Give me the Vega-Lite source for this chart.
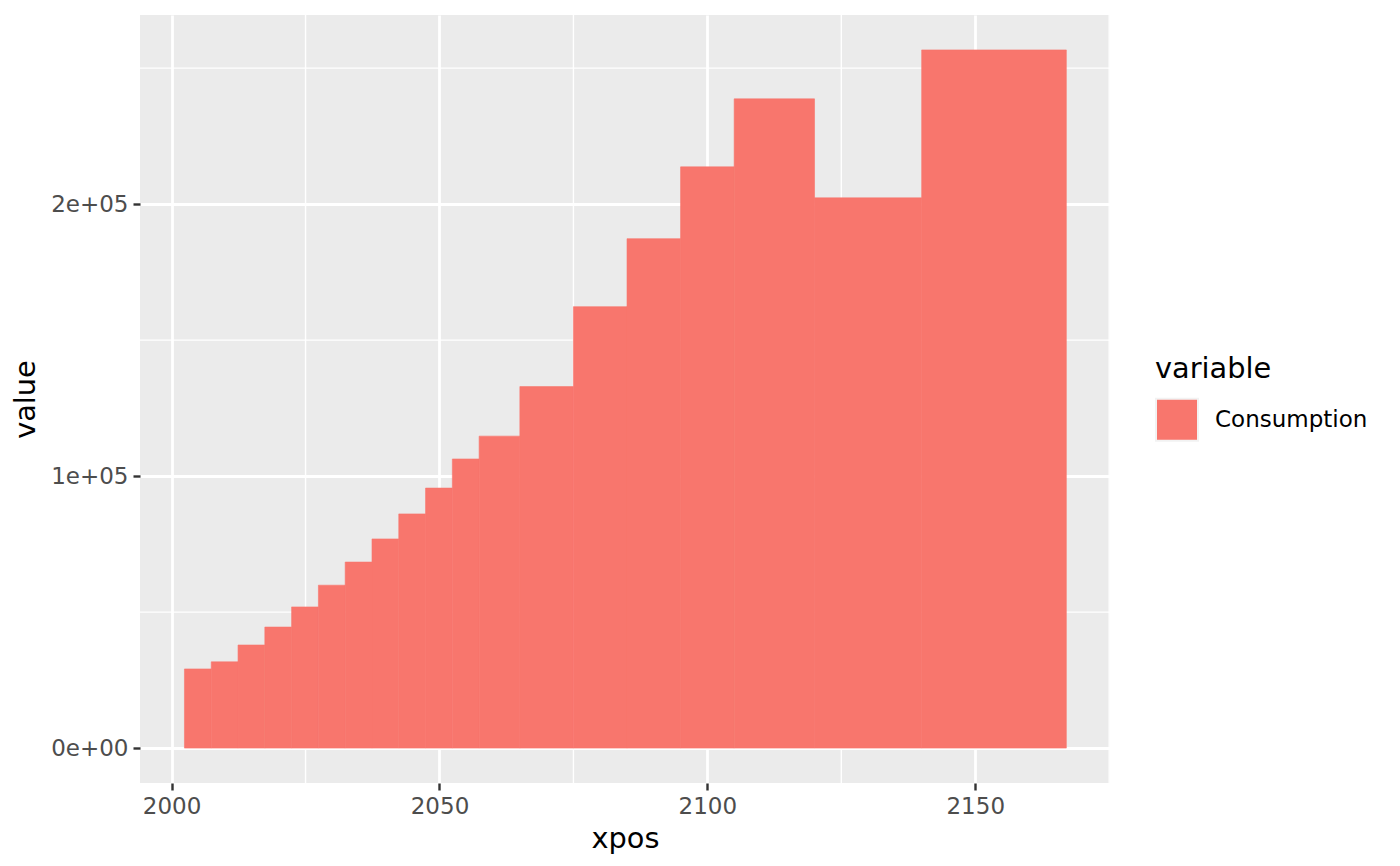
{
  "$schema": "https://vega.github.io/schema/vega-lite/v6.json",
  "width": 970,
  "height": 768,
  "autosize": {"type": "none"},
  "padding": {"left": 140, "top": 15, "right": 290, "bottom": 83},
  "background": "white",
  "config": {
    "font": "DejaVu Sans",
    "view": {"fill": "#EBEBEB", "stroke": null},
    "axis": {
      "grid": true,
      "gridColor": "white",
      "gridWidth": 2.8,
      "domain": false,
      "tickColor": "#333333",
      "tickWidth": 2.4,
      "tickSize": 7,
      "labelFont": "DejaVu Sans",
      "labelFontSize": 23,
      "labelColor": "#4D4D4D",
      "labelPadding": 5,
      "titleFont": "DejaVu Sans",
      "titleFontSize": 28.8,
      "titleFontWeight": "normal",
      "titleColor": "black"
    },
    "legend": {
      "titleFont": "DejaVu Sans",
      "titleFontSize": 28.8,
      "titleFontWeight": "normal",
      "titleColor": "black",
      "labelFont": "DejaVu Sans",
      "labelFontSize": 23,
      "labelColor": "black"
    }
  },
  "datasets": {
    "bars": [
      {"xmin": 2002.4, "xmax": 2007.4, "value": 29100, "variable": "Consumption"},
      {"xmin": 2007.4, "xmax": 2012.4, "value": 31700, "variable": "Consumption"},
      {"xmin": 2012.4, "xmax": 2017.4, "value": 37900, "variable": "Consumption"},
      {"xmin": 2017.4, "xmax": 2022.4, "value": 44500, "variable": "Consumption"},
      {"xmin": 2022.4, "xmax": 2027.4, "value": 51900, "variable": "Consumption"},
      {"xmin": 2027.4, "xmax": 2032.4, "value": 59900, "variable": "Consumption"},
      {"xmin": 2032.4, "xmax": 2037.4, "value": 68400, "variable": "Consumption"},
      {"xmin": 2037.4, "xmax": 2042.4, "value": 76900, "variable": "Consumption"},
      {"xmin": 2042.4, "xmax": 2047.4, "value": 86100, "variable": "Consumption"},
      {"xmin": 2047.4, "xmax": 2052.4, "value": 95600, "variable": "Consumption"},
      {"xmin": 2052.4, "xmax": 2057.4, "value": 106300, "variable": "Consumption"},
      {"xmin": 2057.4, "xmax": 2065, "value": 114700, "variable": "Consumption"},
      {"xmin": 2065, "xmax": 2075, "value": 132900, "variable": "Consumption"},
      {"xmin": 2075, "xmax": 2085, "value": 162300, "variable": "Consumption"},
      {"xmin": 2085, "xmax": 2095, "value": 187300, "variable": "Consumption"},
      {"xmin": 2095, "xmax": 2105, "value": 213700, "variable": "Consumption"},
      {"xmin": 2105, "xmax": 2120, "value": 238700, "variable": "Consumption"},
      {"xmin": 2120, "xmax": 2140, "value": 202300, "variable": "Consumption"},
      {"xmin": 2140, "xmax": 2167, "value": 256700, "variable": "Consumption"}
    ],
    "minorX": [{"v": 2025}, {"v": 2075}, {"v": 2125}, {"v": 2175}],
    "minorY": [{"v": 50000}, {"v": 150000}, {"v": 250000}]
  },
  "layer": [
    {
      "data": {"name": "minorX"},
      "mark": {"type": "rule", "color": "white", "strokeWidth": 1.4},
      "encoding": {
        "x": {"field": "v", "type": "quantitative", "scale": {"domain": [1994.1, 2175.15], "nice": false, "zero": false}}
      }
    },
    {
      "data": {"name": "minorY"},
      "mark": {"type": "rule", "color": "white", "strokeWidth": 1.4},
      "encoding": {
        "y": {"field": "v", "type": "quantitative", "scale": {"domain": [-12835, 269535], "nice": false, "zero": false}}
      }
    },
    {
      "data": {"name": "bars"},
      "mark": {"type": "rect", "stroke": "#F8766D", "strokeWidth": 0.6},
      "encoding": {
        "x": {
          "field": "xmin",
          "type": "quantitative",
          "title": "xpos",
          "scale": {"domain": [1994.1, 2175.15], "nice": false, "zero": false},
          "axis": {"values": [2000, 2050, 2100, 2150], "format": "d", "titlePadding": 6}
        },
        "x2": {"field": "xmax"},
        "y": {
          "field": "value",
          "type": "quantitative",
          "title": "value",
          "scale": {"domain": [-12835, 269535], "nice": false, "zero": false},
          "axis": {
            "values": [0, 100000, 200000],
            "labelExpr": "datum.value == 0 ? '0e+00' : format(datum.value / 100000, 'd') + 'e+05'",
            "titlePadding": 10
          }
        },
        "y2": {"datum": 0},
        "color": {
          "field": "variable",
          "type": "nominal",
          "scale": {"range": ["#F8766D"]},
          "legend": {
            "title": "variable",
            "orient": "none",
            "legendX": 1015,
            "legendY": 340,
            "symbolType": "square",
            "symbolSize": 1764,
            "symbolOpacity": 1,
            "symbolStrokeColor": "#F2F2F2",
            "symbolStrokeWidth": 2,
            "labelOffset": 16,
            "titlePadding": 14
          }
        }
      }
    }
  ]
}
